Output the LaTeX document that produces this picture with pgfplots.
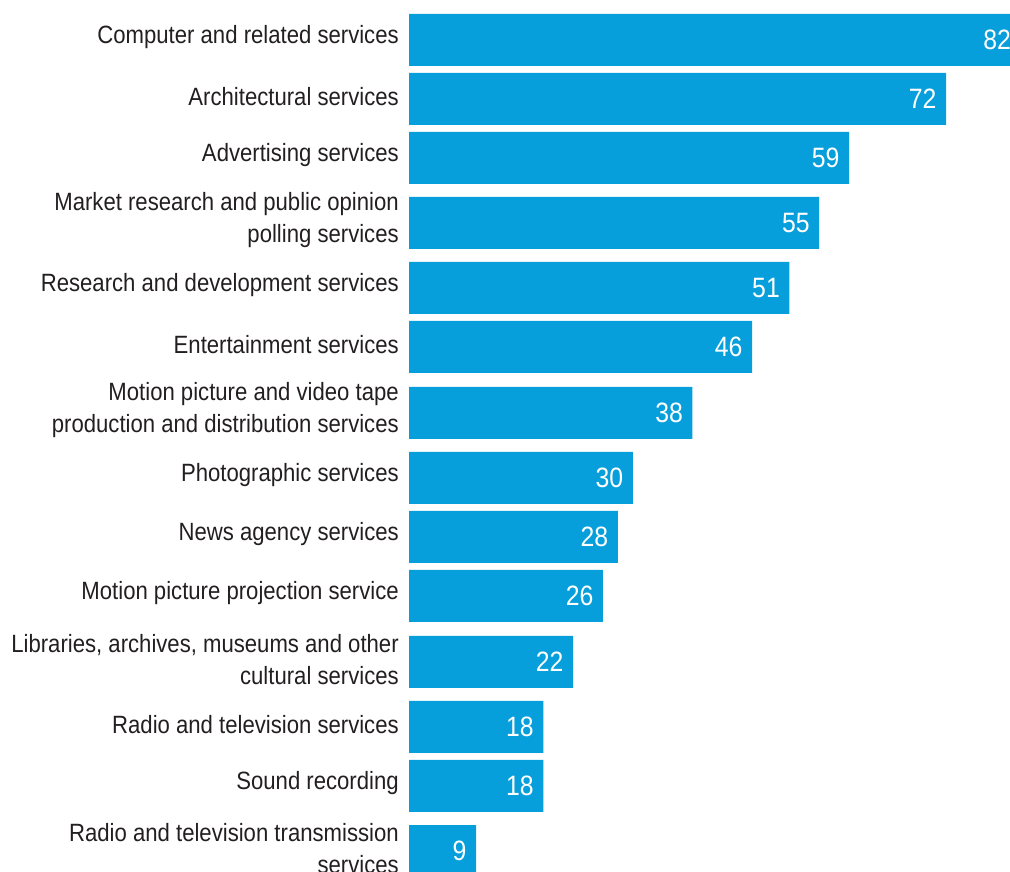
\documentclass[border=0pt]{standalone}
\usepackage{pgfplots}
\usepackage{pgfplotstable}
\pgfplotsset{compat=1.18}
\usepackage{fontspec}
\setmainfont[FakeStretch=0.885]{Liberation Sans}
\definecolor{barblue}{HTML}{079FDB}
\definecolor{txt}{HTML}{231F20}

\pgfplotstableread{
y v
831 82
772 72
713 59
648 55
583 51
524 46
458 38
393 30
334 28
275 26
209 22
144 18
85 18
20 9
}\data

\begin{document}
\begin{tikzpicture}[x=0.75pt,y=0.75pt]
\begin{axis}[
  at={(306.75pt,0pt)}, anchor=south west,
  scale only axis, width=450.75pt, height=653.25pt,
  xmin=0, xmax=80.58, ymin=0, ymax=871,
  axis line style={draw=none}, tick style={draw=none},
  /pgf/number format/assume math mode=true,
  xtick=\empty,
  ytick={831,772,713,648,583,524,458,393,334,275,209,144,85,20},
  yticklabels={
    Computer and related services,
    Architectural services,
    Advertising services,
    {Market research and public opinion\\polling services},
    Research and development services,
    Entertainment services,
    {Motion picture and video tape\\production and distribution services},
    Photographic services,
    News agency services,
    Motion picture projection service,
    {Libraries, archives, museums and other\\cultural services},
    Radio and television services,
    Sound recording,
    {Radio and television transmission\\services}
  },
  yticklabel style={align=right, anchor=east, inner sep=0pt, xshift=-7.5pt, yshift=2pt,
    font=\fontsize{18.75pt}{24pt}\selectfont, text=txt},
  clip=false,
]
\addplot[xbar, fill=barblue, draw=none, bar width=39pt, point meta=x,
  nodes near coords,
  every node near coord/.append style={anchor=east, inner sep=0pt, xshift=-7pt,
    font=\fontsize{21pt}{24pt}\selectfont, text=white}]
  table[x=v, y=y] {\data};
\end{axis}
\pgfresetboundingbox
\path[use as bounding box] (0,0) rectangle (1010,871);
\end{tikzpicture}
\end{document}
